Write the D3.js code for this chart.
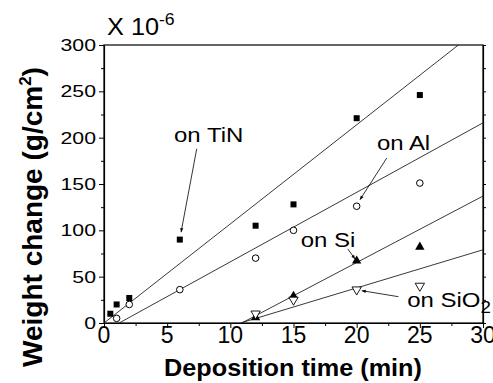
<!DOCTYPE html>
<html>
<head>
<meta charset="utf-8">
<script src="https://cdn.jsdelivr.net/npm/d3@7"></script>
<style>
  body { margin: 0; background: #fff; }
  svg text { font-family: "Liberation Sans", Arial, sans-serif; fill: #000; }
</style>
</head>
<body>
<svg id="chart" width="493" height="383"></svg>
<script>
// values (time in min, weight change in 1e-6 g/cm2)
var tinTime = [0.5, 1, 2, 6, 12, 15, 20, 25];
var tinGain = [10, 20, 27, 90, 105, 128, 221, 246];
var alTime = [1, 2, 6, 12, 15, 20, 25];
var alGain = [5, 20, 36, 70, 100, 126, 151];
var siTime = [12, 15, 20, 25];
var siGain = [6, 29, 67, 82];
var sio2Time = [12, 15, 20, 25];
var sio2Gain = [10, 25, 36, 40];

// fitted straight lines, [start, end] in data units
var fitTiN = [[0, 0], [28.05, 300]];
var fitAl = [[1.2, 0], [30, 216]];
var fitSi = [[10.9, 0], [30, 137]];
var fitSiO2 = [[10.8, 0], [30, 79]];

var xTicks = [0, 5, 10, 15, 20, 25, 30];
var yTicks = [0, 50, 100, 150, 200, 250, 300];

var svg = d3.select("#chart");
var x = d3.scaleLinear().domain([0, 30]).range([104, 483]);
var y = d3.scaleLinear().domain([0, 300]).range([323, 45]);

// text helper: the original is a bit stretched sideways
function label(str, px, py, size, sx, anchor, weight) {
  return svg.append("text")
    .attr("transform", "translate(" + px + "," + py + ") scale(" + sx + ",1)")
    .attr("text-anchor", anchor || "start")
    .style("font-size", size + "px")
    .style("font-weight", weight || "normal")
    .text(str);
}

// frame
svg.append("rect")
  .attr("x", x(0)).attr("y", y(300))
  .attr("width", x(30) - x(0)).attr("height", y(0) - y(300))
  .attr("fill", "none").attr("stroke", "#000").attr("stroke-width", 1.2);

// axes
var xAxis = svg.append("g").attr("transform", "translate(0," + y(0) + ")")
  .call(d3.axisBottom(x).tickValues(d3.range(0, 30.1, 2.5)).tickSize(4).tickSizeOuter(0).tickFormat(""));
xAxis.selectAll("line").attr("y2", function (d) { return d % 5 === 0 ? 5 : 3; });
var yAxis = svg.append("g").attr("transform", "translate(" + x(0) + ",0)")
  .call(d3.axisLeft(y).tickValues(d3.range(0, 300.1, 25)).tickSize(4).tickSizeOuter(0).tickFormat(""));
yAxis.selectAll("line").attr("x2", function (d) { return d % 50 === 0 ? -5 : -3; });
var yRight = svg.append("g").attr("transform", "translate(" + x(30) + ",0)")
  .call(d3.axisRight(y).tickValues(d3.range(0, 300.1, 25)).tickSize(3).tickSizeOuter(0).tickFormat(""));
svg.selectAll(".domain").attr("stroke-width", 1.2);

xTicks.forEach(function (t) { label(String(t), x(t), y(0) + 20, 23, 1, "middle"); });
yTicks.forEach(function (t) { label(String(t), 96, y(t) + 6, 17, 1.25, "end"); });

// axis titles
svg.append("text")
  .attr("transform", "translate(42," + 217 + ") rotate(-90)")
  .attr("text-anchor", "middle")
  .style("font-size", "28px").style("font-weight", "bold")
  .text("Weight change (g/cm")
  .call(function (t) {
    t.append("tspan").attr("dy", -11).style("font-size", "17px").text("2");
    t.append("tspan").attr("dy", 11).text(")");
  });
label("Deposition time (min)", 293, 376, 24.5, 1.03, "middle", "bold");

var ex = label("X 10", 107, 35, 23, 1.1);
ex.append("tspan").attr("dy", -10).style("font-size", "16px").text("-6");

// fit lines
var line = d3.line().x(function (d) { return x(d[0]); }).y(function (d) { return y(d[1]); });
[fitTiN, fitAl, fitSi, fitSiO2].forEach(function (f) {
  svg.append("path").attr("d", line(f)).attr("fill", "none")
    .attr("stroke", "#222").attr("stroke-width", 0.9);
});

// markers
function pts(ts, vs) { return ts.map(function (t, i) { return [t, vs[i]]; }); }
svg.selectAll(".tin").data(pts(tinTime, tinGain)).enter().append("rect")
  .attr("x", function (d) { return x(d[0]) - 3; }).attr("y", function (d) { return y(d[1]) - 3; })
  .attr("width", 6).attr("height", 6).attr("fill", "#000");
svg.selectAll(".al").data(pts(alTime, alGain)).enter().append("circle")
  .attr("cx", function (d) { return x(d[0]); }).attr("cy", function (d) { return y(d[1]); })
  .attr("r", 3.3).attr("fill", "#fff").attr("stroke", "#000").attr("stroke-width", 1);
var tri = d3.symbol().type(d3.symbolTriangle).size(38);
svg.selectAll(".si").data(pts(siTime, siGain)).enter().append("path")
  .attr("d", tri).attr("transform", function (d) { return "translate(" + x(d[0]) + "," + y(d[1]) + ")"; })
  .attr("fill", "#000");
svg.selectAll(".sio2").data(pts(sio2Time, sio2Gain)).enter().append("path")
  .attr("d", tri).attr("transform", function (d) { return "translate(" + x(d[0]) + "," + y(d[1]) + ") rotate(180)"; })
  .attr("fill", "#fff").attr("stroke", "#000").attr("stroke-width", 0.9);

// annotations
svg.append("defs").append("marker")
  .attr("id", "head").attr("viewBox", "0 0 10 10").attr("refX", 10).attr("refY", 5)
  .attr("markerWidth", 6).attr("markerHeight", 5).attr("orient", "auto")
  .append("path").attr("d", "M0,1 L10,5 L0,9 Z").attr("fill", "#000");

var notes = [
  { text: "on TiN", at: [5.54, 195], from: [7.34, 188], to: [6.1, 98] },
  { text: "on Al", at: [21.6, 187], from: [22.38, 178], to: [20.26, 133] },
  { text: "on Si", at: [15.57, 82], from: [19.3, 80], to: [19.87, 69] },
  { text: "on SiO", sub: "2", at: [24.0, 17.6], from: [23.3, 28.4], to: [20.4, 34.9] }
];
notes.forEach(function (n) {
  svg.append("line")
    .attr("x1", x(n.from[0])).attr("y1", y(n.from[1]))
    .attr("x2", x(n.to[0])).attr("y2", y(n.to[1]))
    .attr("stroke", "#000").attr("stroke-width", 0.8)
    .attr("marker-end", "url(#head)");
  var t = label(n.text, x(n.at[0]), y(n.at[1]), 20.5, 1.17);
  if (n.sub) t.append("tspan").attr("dy", 6).style("font-size", "16px").text(n.sub);
});
</script>
</body>
</html>
